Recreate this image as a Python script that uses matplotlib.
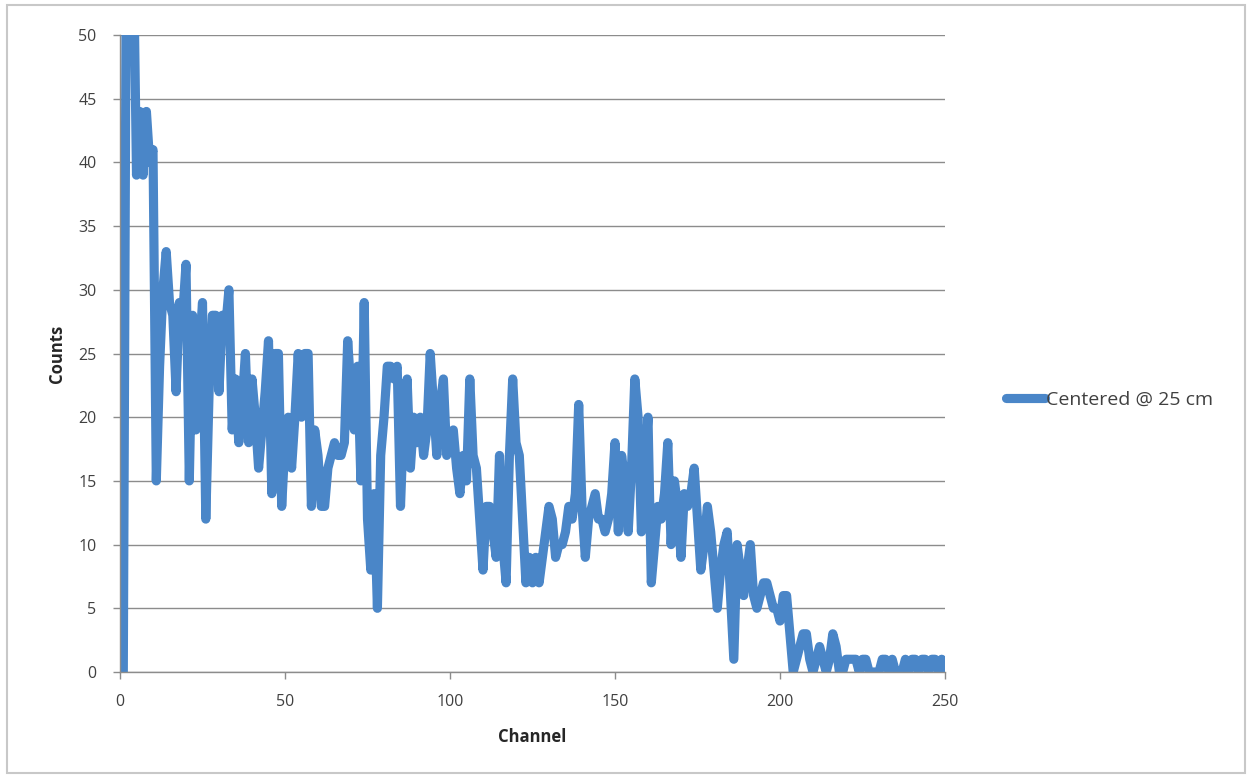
import matplotlib
matplotlib.use("Agg")
import matplotlib.pyplot as plt
from matplotlib.patches import Rectangle

plt.rcParams['font.family'] = ['Open Sans', 'DejaVu Sans']

# Pulse-height spectrum, counts per channel
counts = [
    0, 0, 62, 60, 58, 39, 44, 39, 44, 40,          # 0-9
    41, 15, 24, 30, 33, 29, 28, 22, 29, 28,        # 10-19
    32, 15, 28, 19, 25, 29, 12, 22, 28, 28,        # 20-29
    22, 28, 27, 30, 19, 23, 18, 21, 25, 18,        # 30-39
    23, 20, 16, 19, 22, 26, 14, 25, 25, 13,        # 40-49
    18, 20, 16, 20, 25, 20, 25, 25, 13, 19,        # 50-59
    17, 13, 13, 16, 17, 18, 17, 17, 18, 26,        # 60-69
    22, 19, 24, 15, 29, 12, 8, 14, 5, 17,          # 70-79
    20, 24, 24, 23, 24, 13, 20, 23, 16, 20,        # 80-89
    18, 20, 17, 19, 25, 21, 17, 21, 23, 17,        # 90-99
    18, 19, 16, 14, 17, 15, 23, 17, 16, 12,        # 100-109
    8, 13, 13, 11, 9, 17, 10, 7, 17, 23,           # 110-119
    18, 17, 12, 7, 9, 7, 9, 7, 9, 11,              # 120-129
    13, 12, 9, 10, 10, 11, 13, 12, 14, 21,         # 130-139
    13, 9, 12, 13, 14, 12, 12, 11, 12, 14,         # 140-149
    18, 11, 17, 15, 11, 16, 23, 20, 11, 16,        # 150-159
    20, 7, 10, 13, 12, 14, 18, 10, 15, 13,         # 160-169
    9, 14, 13, 14, 16, 12, 8, 10, 13, 11,          # 170-179
    8, 5, 8, 10, 11, 6, 1, 10, 8, 6,               # 180-189
    8, 10, 6, 5, 6, 7, 7, 6, 5, 5,                 # 190-199
    4, 6, 6, 3, 0, 1, 2, 3, 3, 1,                  # 200-209
    0, 1, 2, 1, 0, 1, 3, 2, 0, 0,                  # 210-219
    1, 1, 1, 1, 0, 1, 1, 0, 0, 0,                  # 220-229
    0, 1, 1, 0, 1, 0, 0, 0, 1, 0,                  # 230-239
    1, 1, 0, 1, 1, 0, 1, 1, 0, 1,                  # 240-249
    0,                                             # 250
]
channels = list(range(len(counts)))

series_label = "Centered @ 25 cm"
x_ticks = [0, 50, 100, 150, 200, 250]
y_ticks = [0, 5, 10, 15, 20, 25, 30, 35, 40, 45, 50]

line_color = "#4a86c8"
grid_color = "#8c8c8c"
text_color = "#404040"

fig = plt.figure(figsize=(12.51, 7.78), dpi=100)
fig.patch.set_facecolor("white")

# thin outer frame around the chart area
fig.patches.append(Rectangle((7 / 1251, 5 / 778), 1238 / 1251, 768 / 778,
                             transform=fig.transFigure, fill=False,
                             edgecolor="#c8c8c8", linewidth=1.5))

ax = fig.add_axes([120 / 1251, 1 - 672 / 778, 825 / 1251, 637 / 778])
ax.plot(channels, counts, color=line_color, linewidth=6.6,
        solid_joinstyle="round", solid_capstyle="round",
        label=series_label, clip_on=True)

ax.set_xlim(0, 250)
ax.set_ylim(0, 50)
ax.set_xticks(x_ticks)
ax.set_yticks(y_ticks)

ax.yaxis.grid(True, color=grid_color, linewidth=1.0)
ax.set_axisbelow(True)
for side in ("top", "right"):
    ax.spines[side].set_visible(False)
for side in ("left", "bottom"):
    ax.spines[side].set_color(grid_color)
    ax.spines[side].set_linewidth(1.0)

ax.tick_params(axis="both", colors=grid_color, labelcolor=text_color,
               labelsize=11.5, length=5, width=1.0, direction="out")
ax.tick_params(axis="x", pad=11)
ax.tick_params(axis="y", pad=12)

ax.set_xlabel("Channel", fontsize=12, fontweight="bold", color="#262626",
              labelpad=13)
ax.set_ylabel("Counts", fontsize=12, fontweight="bold", color="#262626",
              labelpad=9)

ax.legend(loc="center left", bbox_to_anchor=(1.053, 0.428), frameon=False,
          fontsize=14, handlelength=2.0, handletextpad=0.05,
          labelcolor=text_color)

fig.savefig("out.png", dpi=100, facecolor="white")
